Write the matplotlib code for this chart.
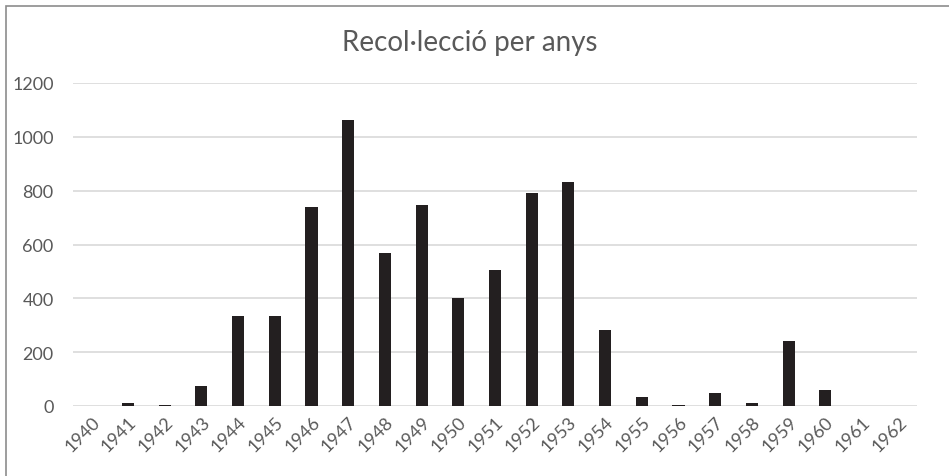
import matplotlib.pyplot as plt
from matplotlib.patches import Rectangle

anys = ['1940', '1941', '1942', '1943', '1944', '1945', '1946', '1947', '1948',
        '1949', '1950', '1951', '1952', '1953', '1954', '1955', '1956', '1957',
        '1958', '1959', '1960', '1961', '1962']
recollits = [0, 11, 5, 74, 335, 335, 739, 1062, 570, 747, 402, 504, 793, 834,
             283, 35, 5, 47, 10, 240, 58, 0, 0]
yticks = [0, 200, 400, 600, 800, 1000, 1200]

gris = '#595959'
plt.rcParams['font.family'] = ['Lato', 'DejaVu Sans']

fig = plt.figure(figsize=(9.49, 4.77), dpi=100)
# marc del grafic (nomes es veuen la vora esquerra i la de dalt)
fig.patches.append(Rectangle((5.5 / 949, -0.1), 1.2, 1.1 - 6.5 / 477,
                             transform=fig.transFigure, fill=False,
                             edgecolor='#8c8c8c', linewidth=1.2))

ax = fig.add_axes([73 / 949, 1 - 407 / 477, 844 / 949, 323 / 477])
x = list(range(len(anys)))
ax.bar(x, recollits, width=0.33, color='#231f20', zorder=3)

ax.set_xlim(-0.5, len(anys) - 0.5)
ax.set_ylim(0, 1200)
ax.set_yticks(yticks)
ax.set_yticklabels([str(v) for v in yticks])
ax.set_xticks(x)
ax.set_xticklabels(anys, rotation=45, ha='right', rotation_mode='anchor')
ax.grid(axis='y', color='#d9d9d9', linewidth=1.2, zorder=0)
ax.tick_params(axis='both', length=0, colors=gris, labelsize=13)
ax.tick_params(axis='y', pad=14)
ax.tick_params(axis='x', pad=5)
for s in ax.spines.values():
    s.set_visible(False)

fig.text(470 / 949, 1 - 43 / 477, 'Recol·lecció per anys', ha='center',
         va='center', fontsize=20, color=gris)

fig.savefig('out.png', dpi=100)
